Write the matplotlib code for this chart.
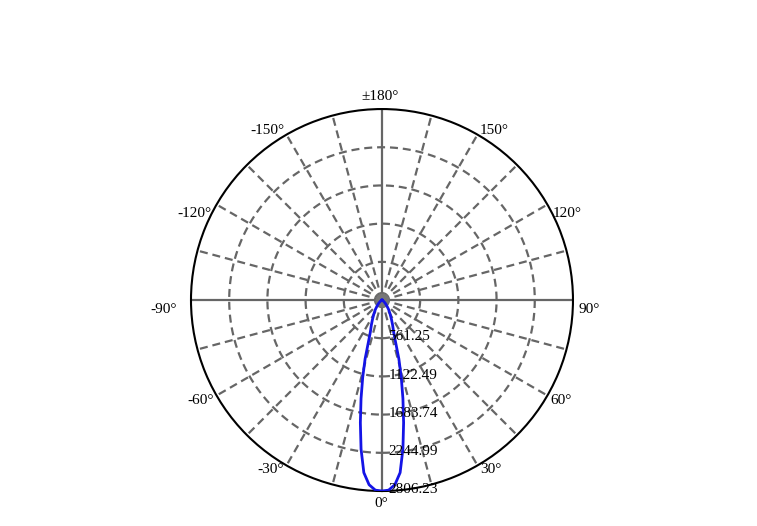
import numpy as np
import matplotlib
matplotlib.use('Agg')
import matplotlib.pyplot as plt
import matplotlib.transforms as mtransforms

# luminous intensity distribution (cd)
angles_deg = [0, 2, 4, 6, 8, 10, 12, 14, 16, 18, 20, 23, 26, 30, 35, 40, 45, 50, 60, 70, 80, 90, 180]
intensity = [2806.23, 2795, 2720, 2550, 2210, 1830, 1480, 1170, 900, 640, 500, 400, 320,
             240, 170, 110, 70, 40, 15, 5, 2, 0, 0]
r_ticks = [561.25, 1122.49, 1683.74, 2244.99, 2806.23]
theta_ticks = [0, 30, 60, 90, 120, 150, 180, -150, -120, -90, -60, -30]
theta_labels = ['0°', '30°', '60°', '90°', '120°', '150°', '±180°',
                '-150°', '-120°', '-90°', '-60°', '-30°']

plt.rcParams['font.family'] = ['Liberation Serif', 'DejaVu Serif']

fig = plt.figure(figsize=(7.57, 5.26), dpi=100)
ax = fig.add_axes([0.2523, 0.0665, 0.5046, 0.7262], projection='polar')
ax.set_theta_zero_location('S')
ax.set_theta_direction(1)

# mirror the half-curve to both sides
a = np.array(angles_deg, dtype=float)
v = np.array(intensity, dtype=float)
th = np.concatenate([-a[::-1], a[1:]])
rr = np.concatenate([v[::-1], v[1:]])
ax.plot(np.deg2rad(th), rr, color='#1414e6', lw=2, zorder=5)

rmax = r_ticks[-1]
grid_kw = dict(color='#666666', lw=1.6, ls=(0, (3.6, 2.2)), zorder=1)
# dashed rings
t = np.linspace(0, 2 * np.pi, 400)
for rv in r_ticks[:-1]:
    ax.plot(t, np.full_like(t, rv), **grid_kw)
# spokes every 15 degrees
for d in range(0, 360, 15):
    if d % 90 == 0:
        ax.plot([np.deg2rad(d)] * 2, [0, rmax], color='#666666', lw=1.6, zorder=1)
    else:
        ax.plot([np.deg2rad(d)] * 2, [0, rmax], **grid_kw)
ax.plot([0], [0], 'o', color='#777777', ms=9, zorder=2)

ax.set_thetalim(0, 2 * np.pi)
ax.set_ylim(0, rmax)
ax.set_yticks(r_ticks)
ax.set_yticklabels([])
ax.set_xticks(np.deg2rad(np.array(theta_ticks) % 360))
ax.set_xticklabels([])
ax.grid(False)

ax.spines['polar'].set_color('black')
ax.spines['polar'].set_linewidth(1.5)

# angle labels just outside the rim
for ang, lab in zip(theta_ticks, theta_labels):
    side = 'left' if ang > 0 else 'right'
    if ang == 0:
        ha, va, dx, dy = 'center', 'top', -1, -6
    elif abs(ang) == 180:
        ha, va, dx, dy = 'center', 'bottom', -2, 6
    elif abs(ang) == 150:
        ha, va, dx, dy = side, 'bottom', 2, -2
    elif ang == 90:
        ha, va, dx, dy = side, 'top', 6, -3
    elif ang == -90:
        ha, va, dx, dy = side, 'top', 14, -3
    elif abs(ang) == 120:
        ha, va, dx, dy = side, 'top', 5, -2
    else:
        ha, va, dx, dy = side, 'top', 3, 2
    if ang < 0:
        dx = -dx
    tr = mtransforms.offset_copy(ax.transData, fig=fig, x=dx * 0.72, y=dy * 0.72, units='points')
    ax.text(np.deg2rad(ang % 360), rmax, lab, transform=tr, ha=ha, va=va,
            fontsize=11, clip_on=False)

# radial labels along the 0 degree line
off = mtransforms.offset_copy(ax.transData, fig=fig, x=4.5, y=1, units='points')
for rv in r_ticks:
    ax.text(0, rv, '%.2f' % rv, transform=off, ha='left', va='center', fontsize=11, zorder=6)

fig.savefig('out.png', dpi=100)
